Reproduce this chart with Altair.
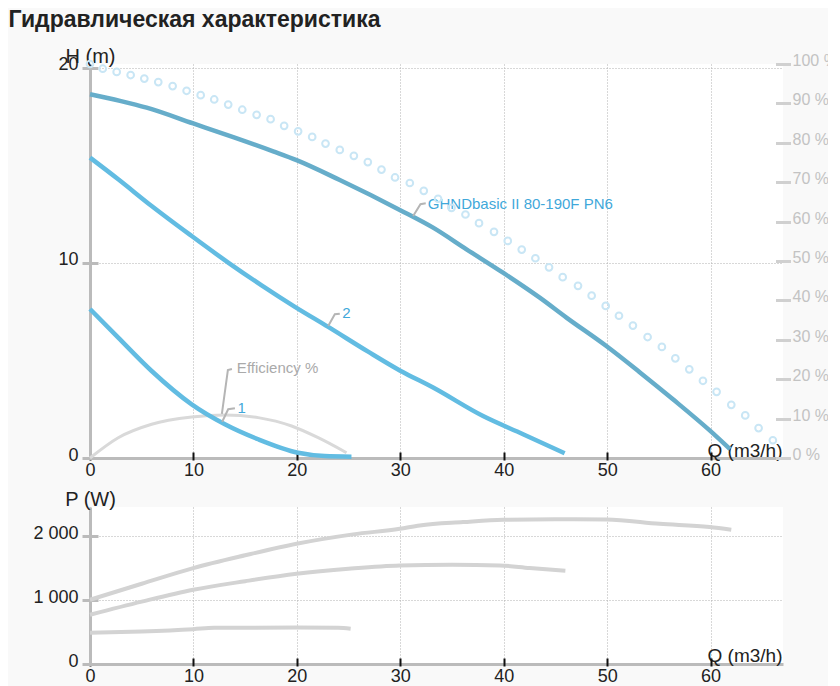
import altair as alt
import pandas as pd

FONT = "Liberation Sans"

chart_title = "Гидравлическая характеристика"

# ---- axis tick values ----
q_ticks = [0, 10, 20, 30, 40, 50, 60]
h_ticks = [0, 10, 20]
pct_ticks = [0, 10, 20, 30, 40, 50, 60, 70, 80, 90, 100]
p_ticks = [0, 1000, 2000]

# ---- H(Q) curves ----
main_q = [0, 2.9, 5.48, 9.98, 13.85, 17.71, 19.97, 24.15, 29.95, 33.17, 36.4, 39.93, 43.48, 46.06, 49.92, 53.14, 56.36, 59.94, 61.88]
main_h = [18.65, 18.31, 17.96, 17.15, 16.45, 15.72, 15.27, 14.25, 12.72, 11.81, 10.7, 9.5, 8.22, 7.2, 5.74, 4.4, 3.01, 1.4, 0.45]

c2_q = [0, 2.73, 5.96, 9.83, 13.36, 16.59, 19.81, 23.03, 26.89, 29.95, 33.17, 38.0, 41.87, 45.89]
c2_h = [15.4, 14.29, 12.92, 11.38, 10.02, 8.85, 7.75, 6.72, 5.45, 4.49, 3.61, 2.15, 1.22, 0.24]

c1_q = [0, 2.73, 5.96, 9.83, 13.04, 16.26, 20.12, 22.7, 25.28]
c1_h = [7.64, 6.17, 4.46, 2.75, 1.73, 0.96, 0.27, 0.1, 0.07]

eff_q = [0, 2.73, 5.96, 9.83, 13.04, 16.26, 19.49, 22.06, 24.8]
eff_h = [0, 1.04, 1.73, 2.1, 2.21, 2.07, 1.64, 1.04, 0.27]

# ---- circle series on the % axis ----
circ_q = [0, 1.23, 2.58, 3.93, 5.25, 6.6, 7.99, 9.34, 10.7, 12.01, 13.36, 14.72, 16.11, 17.46, 18.77,
          20.12, 21.48, 22.77, 24.15, 25.51, 26.86, 28.18, 29.49, 30.92, 32.27, 33.65, 34.95, 36.3,
          37.61, 39.06, 40.39, 41.74, 43.06, 44.38, 45.7, 47.18, 48.5, 49.86, 51.14, 52.49, 53.91,
          55.29, 56.59, 57.94, 59.26, 60.58, 62.0, 63.35, 64.64, 66.02]
circ_pct = [100.0, 98.8, 98.0, 97.2, 96.3, 95.4, 94.4, 93.2, 92.1, 91.0, 89.7, 88.4, 87.1, 86.0, 84.3,
            82.9, 81.5, 79.8, 78.2, 76.7, 75.1, 73.2, 71.2, 69.8, 67.8, 65.8, 63.5, 61.8, 59.6, 57.4,
            55.1, 52.9, 50.7, 48.4, 45.9, 43.7, 41.2, 38.6, 36.1, 33.6, 30.7, 28.2, 25.3, 22.5, 19.6,
            16.8, 13.5, 10.8, 7.6, 4.5]

# ---- P(Q) curves ----
p3_q = [0, 5, 9.98, 15, 19.97, 25.44, 29.95, 31.88, 36.07, 39.93, 45, 49.92, 55.07, 59.9, 62.0]
p3_w = [1005, 1255, 1500, 1700, 1880, 2027, 2114, 2167, 2219, 2255, 2262, 2261, 2192, 2141, 2098]
p2_q = [0, 5, 9.98, 15, 19.97, 25, 29.95, 35, 39.61, 42.51, 45.96]
p2_w = [770, 975, 1161, 1295, 1411, 1490, 1542, 1552, 1542, 1500, 1458]
p1_q = [0, 5, 10, 12, 20, 24, 25.2]
p1_w = [490, 510, 545, 565, 570, 565, 550]

# ---- annotations (data units) ----
lab_text = ["GHNDbasic II 80-190F PN6", "2", "Efficiency %", "1"]
lab_q = [32.66, 24.38, 14.2, 14.27]
lab_h = [13.03, 7.45, 4.59, 2.58]
lab_color = ["#3fa8da", "#3fa8da", "#aaaaaa", "#3fa8da"]

lead_id = ["a", "a", "a", "b", "b", "b", "c", "c", "c", "d", "d", "d"]
lead_q = [32.46, 31.95, 31.24, 24.15, 23.67, 23.03, 13.72, 13.33, 12.75, 14.01, 13.36, 12.78]
lead_h = [13.06, 13.01, 12.41, 7.40, 7.37, 6.77, 4.56, 4.51, 2.26, 2.55, 2.50, 1.86]

# ---- data frames ----
df_main = pd.DataFrame({"q": main_q, "h": main_h})
df_c2 = pd.DataFrame({"q": c2_q, "h": c2_h})
df_c1 = pd.DataFrame({"q": c1_q, "h": c1_h})
df_eff = pd.DataFrame({"q": eff_q, "h": eff_h})
df_circ = pd.DataFrame({"q": circ_q, "pct": circ_pct})
df_lab = pd.DataFrame({"q": lab_q, "h": lab_h, "t": lab_text, "c": lab_color})
df_lead = pd.DataFrame({"id": lead_id, "q": lead_q, "h": lead_h})
df_p3 = pd.DataFrame({"q": p3_q, "p": p3_w})
df_p2 = pd.DataFrame({"q": p2_q, "p": p2_w})
df_p1 = pd.DataFrame({"q": p1_q, "p": p1_w})

XS = alt.Scale(domain=[0, 67], nice=False, zero=False)
HS = alt.Scale(domain=[0, 20.2], nice=False, zero=False)
PCTS = alt.Scale(domain=[0, 100], nice=False, zero=False)
PS = alt.Scale(domain=[0, 2455], nice=False, zero=False)

GRID = dict(grid=True, gridColor="#b0b0b0", gridDash=[1, 2], gridWidth=1, gridOpacity=1)
INK = "#222222"


def x_grid_axis(title_y):
    return alt.Axis(orient="bottom", values=q_ticks, title="Q (m3/h)", domain=True,
                    domainColor="#bbbbbb", domainWidth=3, ticks=False, labels=False,
                    titleX=692, titleY=title_y, titleAlign="right", titleBaseline="alphabetic",
                    titleFontSize=19, titleFontWeight="normal", titleColor=INK, **GRID)


def x_tick_axis():
    return alt.Axis(orient="bottom", values=q_ticks, title=None, grid=False, domain=False,
                    ticks=True, tickColor="#111111", tickWidth=2, tickSize=8, offset=-6,
                    labels=True, labelFontSize=18, labelColor=INK, labelPadding=1,
                    labelFlush=False, labelOverlap=False)


def y_grid_axis(title, vals):
    return alt.Axis(orient="left", values=vals, title=title, domain=True, domainColor="#bbbbbb",
                    domainWidth=3, ticks=False, labels=False, titleX=0, titleY=-1.5, titleAngle=0,
                    titleAlign="center", titleBaseline="alphabetic", titleFontSize=20,
                    titleFontWeight="normal", titleColor=INK, **GRID)


def y_tick_axis(vals, expr=None):
    kw = dict(orient="left", values=vals, title=None, grid=False, domain=False, ticks=True,
              tickColor="#bbbbbb", tickWidth=3, tickSize=16, offset=-8, labels=True,
              labelFontSize=18, labelColor=INK, labelPadding=4, labelBaseline="alphabetic",
              labelOffset=2, labelFlush=False, labelOverlap=False)
    if expr:
        kw["labelExpr"] = expr
    return alt.Axis(**kw)


# ---------------- top panel ----------------
eff_layer = alt.Chart(df_eff).mark_line(color="#d9d9d9", strokeWidth=3, interpolate="monotone").encode(
    x=alt.X("q:Q", scale=XS, axis=None), y=alt.Y("h:Q", scale=HS, axis=None))

main_layer = alt.Chart(df_main).mark_line(color="#66adca", strokeWidth=4.5, interpolate="monotone").encode(
    x=alt.X("q:Q", scale=XS, axis=x_grid_axis(-2)),
    y=alt.Y("h:Q", scale=HS, axis=y_grid_axis("H (m)", h_ticks)))

c2_layer = alt.Chart(df_c2).mark_line(color="#62bce2", strokeWidth=4.5, interpolate="monotone").encode(
    x=alt.X("q:Q", scale=XS, axis=x_tick_axis()),
    y=alt.Y("h:Q", scale=HS, axis=y_tick_axis(h_ticks)))

c1_layer = alt.Chart(df_c1).mark_line(color="#62bce2", strokeWidth=4.5, interpolate="monotone").encode(
    x=alt.X("q:Q", scale=XS, axis=None), y=alt.Y("h:Q", scale=HS, axis=None))

lead_layer = alt.Chart(df_lead).mark_line(color="#b5b5b5", strokeWidth=2).encode(
    x=alt.X("q:Q", scale=XS, axis=None), y=alt.Y("h:Q", scale=HS, axis=None),
    detail="id:N", order=alt.Order("q:Q"))

text_layer = alt.Chart(df_lab).mark_text(align="left", baseline="middle", fontSize=15, font=FONT).encode(
    x=alt.X("q:Q", scale=XS, axis=None), y=alt.Y("h:Q", scale=HS, axis=None),
    text="t:N", color=alt.Color("c:N", scale=None))

circ_layer = alt.Chart(df_circ).mark_point(shape="circle", filled=False, size=45, strokeWidth=2,
                                           color="#c9e6f5", opacity=1).encode(
    x=alt.X("q:Q", scale=XS, axis=None),
    y=alt.Y("pct:Q", scale=PCTS, axis=alt.Axis(
        orient="right", values=pct_ticks, title=None, domain=False, grid=False, ticks=True,
        tickColor="#d0d0d0", tickWidth=3, tickSize=15, offset=-7.5, labelColor="#c3c3c3",
        labelFontSize=16, labelPadding=1.5, labelBaseline="alphabetic", labelOffset=1.5,
        labelFlush=False, labelOverlap=False, labelExpr="datum.value + ' %'")))

top = alt.layer(eff_layer, main_layer, c2_layer, c1_layer, lead_layer, text_layer, circ_layer).resolve_scale(
    y="independent").resolve_axis(x="independent", y="independent").properties(width=693, height=394)

# ---------------- bottom panel ----------------
p3_layer = alt.Chart(df_p3).mark_line(color="#d3d3d3", strokeWidth=4, interpolate="monotone").encode(
    x=alt.X("q:Q", scale=XS, axis=x_grid_axis(-3)),
    y=alt.Y("p:Q", scale=PS, axis=y_grid_axis("P (W)", p_ticks)))

p2_layer = alt.Chart(df_p2).mark_line(color="#d3d3d3", strokeWidth=4, interpolate="monotone").encode(
    x=alt.X("q:Q", scale=XS, axis=x_tick_axis()),
    y=alt.Y("p:Q", scale=PS, axis=y_tick_axis(p_ticks, "replace(format(datum.value, ','), ',', ' ')")))

p1_layer = alt.Chart(df_p1).mark_line(color="#d3d3d3", strokeWidth=4, interpolate="monotone").encode(
    x=alt.X("q:Q", scale=XS, axis=None), y=alt.Y("p:Q", scale=PS, axis=None))

bottom = alt.layer(p3_layer, p2_layer, p1_layer).resolve_axis(
    x="independent", y="independent").properties(width=693, height=157)

chart = alt.vconcat(top, bottom, spacing=10).properties(
    title=alt.TitleParams(chart_title, anchor="start", fontSize=23, fontWeight="bold", color=INK,
                          font=FONT, dx=-24.5, offset=-3, baseline="alphabetic"),
    background="#f9f9f9",
    padding={"left": 0, "top": 0, "right": -10, "bottom": 2},
).configure_view(stroke=None, fill="white").configure_axis(
    labelFont=FONT, titleFont=FONT).configure_text(font=FONT)

chart.save("out.html", embed_options={"renderer": "svg", "actions": False})
